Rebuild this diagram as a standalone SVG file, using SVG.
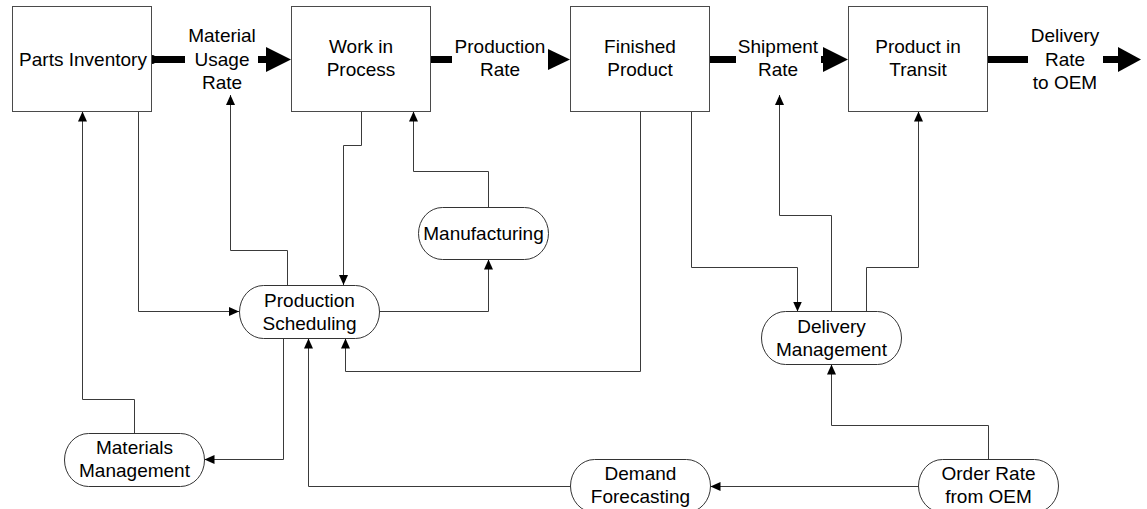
<svg xmlns="http://www.w3.org/2000/svg" width="1147" height="509" viewBox="0 0 1147 509">
  <defs>
    <style>
      text { font-family: "Liberation Sans", Arial, sans-serif; font-size: 19px; fill: #000; text-anchor: middle; }
      .stock { fill: #fff; stroke: #4a4a4a; stroke-width: 1; }
      .proc { fill: #fff; stroke: #333; stroke-width: 1; }
      .pipe { stroke: #000; stroke-width: 7; fill: none; }
      .valve { fill: #000; }
      .link { fill: none; stroke: #3a3a3a; stroke-width: 1; marker-end: url(#arrow); }
    </style>
    <marker id="arrow" viewBox="0 0 10 9" refX="10" refY="4.5" markerWidth="10" markerHeight="9" markerUnits="userSpaceOnUse" orient="auto">
      <path d="M0,0 L10,4.5 L0,9 Z" fill="#000"/>
    </marker>
  </defs>

  <!-- material flows between stocks -->
  <g id="flows">
    <g id="flow-material-usage">
      <circle class="valve" cx="152" cy="59.5" r="4.5"/>
      <line class="pipe" x1="152" y1="59.5" x2="185" y2="59.5"/>
      <line class="pipe" x1="258" y1="59.5" x2="268" y2="59.5"/>
      <polygon class="valve" points="266,47 291,59.5 266,72"/>
      <text x="222" y="41.5">Material</text>
      <text x="222" y="65.5">Usage</text>
      <text x="222" y="89">Rate</text>
    </g>
    <g id="flow-production">
      <circle class="valve" cx="428" cy="59.5" r="4.5"/>
      <line class="pipe" x1="428" y1="59.5" x2="452" y2="59.5"/>
      <polygon class="valve" points="548,49 570,59.5 548,70"/>
      <text x="500" y="53">Production</text>
      <text x="500" y="76">Rate</text>
    </g>
    <g id="flow-shipment">
      <circle class="valve" cx="707" cy="59.5" r="4.5"/>
      <line class="pipe" x1="707" y1="59.5" x2="736" y2="59.5"/>
      <line class="pipe" x1="821" y1="59.5" x2="826" y2="59.5"/>
      <polygon class="valve" points="823,47 848,59.5 823,72"/>
      <text x="778" y="53">Shipment</text>
      <text x="778" y="76">Rate</text>
    </g>
    <g id="flow-delivery">
      <circle class="valve" cx="985" cy="59.5" r="4.5"/>
      <line class="pipe" x1="985" y1="59.5" x2="1028" y2="59.5"/>
      <line class="pipe" x1="1103" y1="59.5" x2="1120" y2="59.5"/>
      <polygon class="valve" points="1118,47 1141,59.5 1118,72"/>
      <text x="1065" y="41.5">Delivery</text>
      <text x="1065" y="65.5">Rate</text>
      <text x="1065" y="89">to OEM</text>
    </g>
  </g>

  <!-- information links -->
  <g id="connectors">
    <path class="link" d="M138.5,111 V311.5 H239"/>
    <path class="link" d="M134.5,433 V399.5 H82.5 V111.5"/>
    <path class="link" d="M283.5,338 V459.5 H204.5"/>
    <path class="link" d="M287.5,285 V250.5 H230.5 V95"/>
    <path class="link" d="M361.5,111 V145.5 H343.5 V285"/>
    <path class="link" d="M488.5,208 V171.5 H413.5 V111.5"/>
    <path class="link" d="M379,311.5 H488.5 V259.5"/>
    <path class="link" d="M640.5,111 V371.5 H345.5 V338.5"/>
    <path class="link" d="M570,486.5 H308.5 V338.5"/>
    <path class="link" d="M918,486.5 H710.5"/>
    <path class="link" d="M988.5,459 V425.5 H831.5 V364.5"/>
    <path class="link" d="M691.5,111 V267.5 H797.5 V311.5"/>
    <path class="link" d="M831.5,311.5 V215.5 H779.5 V95"/>
    <path class="link" d="M866.5,311.5 V267.5 H918.5 V111.5"/>
  </g>

  <!-- stocks -->
  <g id="parts-inventory">
    <rect class="stock" x="12.5" y="6.5" width="139" height="105"/>
    <text x="83" y="66">Parts Inventory</text>
  </g>
  <g id="work-in-process">
    <rect class="stock" x="291.5" y="6.5" width="139" height="105"/>
    <text x="361" y="53">Work in</text>
    <text x="361" y="76">Process</text>
  </g>
  <g id="finished-product">
    <rect class="stock" x="570.5" y="6.5" width="139" height="105"/>
    <text x="640" y="53">Finished</text>
    <text x="640" y="76">Product</text>
  </g>
  <g id="product-in-transit">
    <rect class="stock" x="848.5" y="6.5" width="139" height="105"/>
    <text x="918" y="53">Product in</text>
    <text x="918" y="76">Transit</text>
  </g>

  <!-- management processes -->
  <g id="manufacturing">
    <rect class="proc" x="418.5" y="207.5" width="130" height="52" rx="24" ry="26"/>
    <text x="483.5" y="240">Manufacturing</text>
  </g>
  <g id="production-scheduling">
    <rect class="proc" x="239.5" y="285.5" width="140" height="53" rx="24" ry="26.5"/>
    <text x="309.5" y="306.5">Production</text>
    <text x="309.5" y="329.5">Scheduling</text>
  </g>
  <g id="materials-management">
    <rect class="proc" x="64.5" y="433.5" width="140" height="53" rx="24" ry="26.5"/>
    <text x="134.5" y="454">Materials</text>
    <text x="134.5" y="476.5">Management</text>
  </g>
  <g id="delivery-management">
    <rect class="proc" x="761.5" y="311.5" width="140" height="53" rx="24" ry="26.5"/>
    <text x="831.5" y="333">Delivery</text>
    <text x="831.5" y="355.5">Management</text>
  </g>
  <g id="demand-forecasting">
    <rect class="proc" x="570.5" y="459.5" width="140" height="53" rx="24" ry="26.5"/>
    <text x="640.5" y="480">Demand</text>
    <text x="640.5" y="503">Forecasting</text>
  </g>
  <g id="order-rate">
    <rect class="proc" x="918.5" y="459.5" width="140" height="53" rx="24" ry="26.5"/>
    <text x="988.5" y="480">Order Rate</text>
    <text x="988.5" y="503">from OEM</text>
  </g>
</svg>
